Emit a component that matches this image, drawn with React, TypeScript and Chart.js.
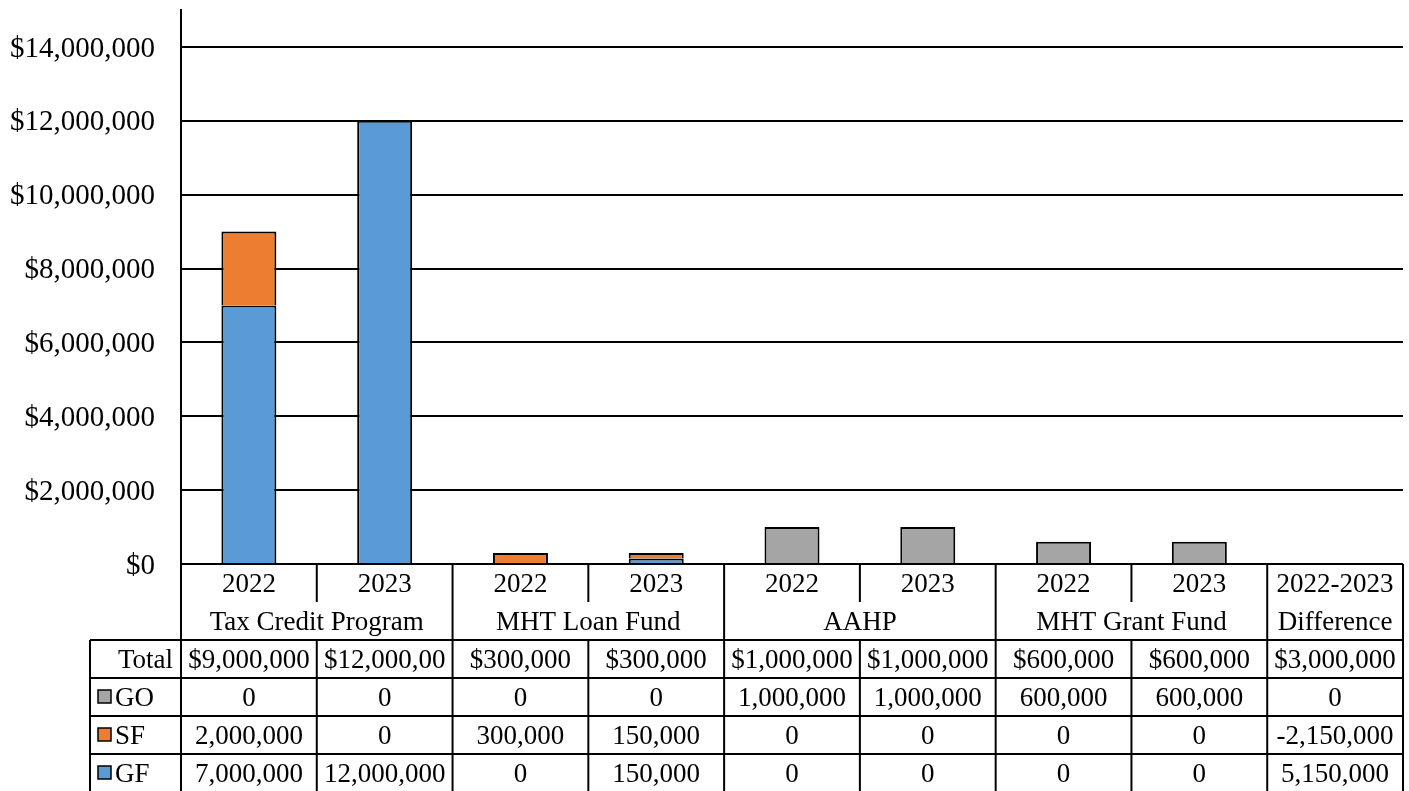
import React, { useEffect, useRef } from "react";
import { Chart, registerables } from "chart.js";

Chart.register(...registerables);

const categories = ["2022", "2023", "2022", "2023", "2022", "2023", "2022", "2023", "2022-2023"];
const groupLabels = ["Tax Credit Program", "MHT Loan Fund", "AAHP", "MHT Grant Fund", "Difference"];
const groupSpans = [2, 2, 2, 2, 1];
const totalLabels = ["$9,000,000", "$12,000,00", "$300,000", "$300,000", "$1,000,000", "$1,000,000", "$600,000", "$600,000", "$3,000,000"];
const goValues = [0, 0, 0, 0, 1000000, 1000000, 600000, 600000, 0];
const sfValues = [2000000, 0, 300000, 150000, 0, 0, 0, 0, -2150000];
const gfValues = [7000000, 12000000, 0, 150000, 0, 0, 0, 0, 5150000];
const yTicks = [0, 2000000, 4000000, 6000000, 8000000, 10000000, 12000000, 14000000];

const COLORS = { GF: "#5B9BD5", SF: "#ED7D31", GO: "#A5A5A5" };
const FONT = "'Liberation Serif', 'Times New Roman', serif";
const TABLE_FONT_SIZE = 27;
const TICK_FONT_SIZE = 29;

const fmt = (v: number) => (v < 0 ? "-" : "") + Math.abs(v).toLocaleString("en-US");

// chart bars exclude the difference column
const barData = (arr: number[]) => arr.map((v, i) => (i < categories.length - 1 ? v : null));

const tablePlugin = {
  id: "dataTable",
  afterDraw(chart: any) {
    const ctx = chart.ctx as CanvasRenderingContext2D;
    const area = chart.chartArea;
    const x = chart.scales.x;
    const n = categories.length;
    const colW = (area.right - area.left) / n;
    const top = area.bottom;
    const rowH = 38;
    const r1 = top + rowH;
    const r2 = top + 2 * rowH;
    const rows = [r2, r2 + rowH, r2 + 2 * rowH, r2 + 3 * rowH];
    const bottom = r2 + 4 * rowH + 2;
    const tableLeft = 90;

    ctx.save();
    ctx.strokeStyle = "#000";
    ctx.lineWidth = 2;
    const line = (x1: number, y1: number, x2: number, y2: number) => {
      ctx.beginPath();
      ctx.moveTo(x1, y1);
      ctx.lineTo(x2, y2);
      ctx.stroke();
    };
    rows.forEach((y) => line(tableLeft, y, area.right, y));
    line(tableLeft, r2, tableLeft, bottom);
    line(area.left, top, area.left, bottom);
    line(area.right, top, area.right, bottom);
    let idx = 0;
    const groupBoundaries = new Set<number>();
    groupSpans.forEach((s) => {
      idx += s;
      groupBoundaries.add(idx);
    });
    for (let i = 1; i < n; i++) {
      const bx = area.left + i * colW;
      if (groupBoundaries.has(i)) {
        line(bx, top, bx, bottom);
      } else {
        line(bx, top, bx, r1);
        line(bx, r2, bx, bottom);
      }
    }

    ctx.fillStyle = "#000";
    ctx.font = `${TABLE_FONT_SIZE}px ${FONT}`;
    ctx.textBaseline = "alphabetic";
    const off = 9;
    ctx.textAlign = "center";
    categories.forEach((c, i) => {
      ctx.fillText(c, x.getPixelForValue(i), top + rowH / 2 + off);
    });
    let start = 0;
    groupLabels.forEach((g, gi) => {
      const s = groupSpans[gi];
      const cx = area.left + (start + s / 2) * colW;
      ctx.fillText(g, cx, r1 + rowH / 2 + off);
      start += s;
    });
    const dataRows: { label: string; color?: string; values: string[] }[] = [
      { label: "Total", values: totalLabels },
      { label: "GO", color: COLORS.GO, values: goValues.map(fmt) },
      { label: "SF", color: COLORS.SF, values: sfValues.map(fmt) },
      { label: "GF", color: COLORS.GF, values: gfValues.map(fmt) },
    ];
    dataRows.forEach((row, ri) => {
      const cy = r2 + ri * rowH + rowH / 2;
      row.values.forEach((v, i) => {
        ctx.textAlign = "center";
        ctx.fillText(v, x.getPixelForValue(i), cy + off);
      });
      if (row.color) {
        ctx.fillStyle = row.color;
        ctx.fillRect(98, cy - 7, 13, 13);
        ctx.lineWidth = 1.5;
        ctx.strokeRect(98, cy - 7, 13, 13);
        ctx.lineWidth = 2;
        ctx.fillStyle = "#000";
        ctx.textAlign = "left";
        ctx.fillText(row.label, 115, cy + off);
      } else {
        ctx.textAlign = "right";
        ctx.fillText(row.label, 173, cy + off);
      }
    });
    ctx.restore();
  },
};

export default function App() {
  const ref = useRef<HTMLCanvasElement | null>(null);
  useEffect(() => {
    document.body.style.margin = "0";
    if (!ref.current) return;
    const chart = new Chart(ref.current, {
      type: "bar",
      data: {
        labels: categories,
        datasets: [
          { label: "GF", data: barData(gfValues), backgroundColor: COLORS.GF },
          { label: "SF", data: barData(sfValues), backgroundColor: COLORS.SF },
          { label: "GO", data: barData(goValues), backgroundColor: COLORS.GO },
        ],
      },
      options: {
        animation: false,
        responsive: false,
        layout: { padding: { left: 0, right: 6, top: 10, bottom: 227 } },
        datasets: {
          bar: {
            borderColor: "#000",
            borderWidth: (c: any) => (c.raw ? 2 : 0),
            borderSkipped: "start",
            categoryPercentage: 1,
            barPercentage: 0.405,
          },
        },
        plugins: { legend: { display: false }, tooltip: { enabled: false } },
        scales: {
          x: { stacked: true, display: false },
          y: {
            stacked: true,
            min: 0,
            max: 15000000,
            afterBuildTicks: (scale: any) => {
              scale.ticks = yTicks.map((v) => ({ value: v }));
            },
            afterFit: (scale: any) => {
              scale.width = 181;
              scale.paddingTop = 0;
              scale.paddingBottom = 0;
            },
            border: { display: true, color: "#000", width: 2 },
            grid: { color: "#000", lineWidth: 2, drawTicks: false },
            ticks: {
              padding: 26,
              labelOffset: 2,
              color: "#000",
              font: { family: FONT, size: TICK_FONT_SIZE },
              callback: (v: any) => "$" + Number(v).toLocaleString("en-US"),
            },
          },
        },
      },
      plugins: [tablePlugin],
    });
    return () => chart.destroy();
  }, []);
  return (
    <div style={{ position: "absolute", left: 0, top: 0, width: 1409, height: 791 }}>
      <canvas ref={ref} width={1409} height={791} style={{ display: "block" }} />
    </div>
  );
}
